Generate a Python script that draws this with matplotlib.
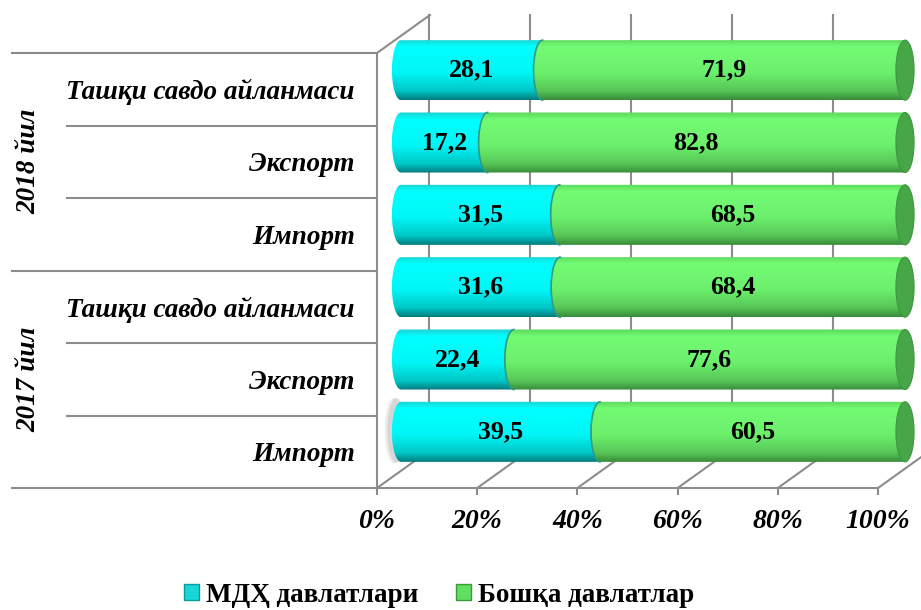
import numpy as np
import matplotlib.pyplot as plt
from matplotlib.patches import Ellipse, PathPatch, Patch
from matplotlib.path import Path
from matplotlib.colors import LinearSegmentedColormap

plt.rcParams['font.family'] = ['Liberation Serif', 'DejaVu Serif']

# data (bottom to top)
categories = ['Импорт', 'Экспорт', 'Ташқи савдо айланмаси',
              'Импорт', 'Экспорт', 'Ташқи савдо айланмаси']
years = ['2017 йил', '2018 йил']
cis_share = [39.5, 22.4, 31.6, 31.5, 17.2, 28.1]
other_share = [60.5, 77.6, 68.4, 68.5, 82.8, 71.9]
series_names = ['МДҲ давлатлари', 'Бошқа давлатлар']
x_ticks = [0, 20, 40, 60, 80, 100]

W, H = 921, 610
GRID = '#8c8c8c'


def fig_rect(l, t, r, b):
    return [l / W, 1 - b / H, (r - l) / W, (b - t) / H]


cyan_cmap = LinearSegmentedColormap.from_list(
    'cy', [(0, '#20cfcf'), (0.12, '#00ffff'), (0.55, '#00f6f6'),
           (0.85, '#00c6c6'), (1, '#007b7c')])
green_cmap = LinearSegmentedColormap.from_list(
    'gr', [(0, '#5cd85c'), (0.12, '#73fb73'), (0.55, '#6cf06c'),
           (0.85, '#57c657'), (1, '#388c38')])

fig = plt.figure(figsize=(W / 100, H / 100), dpi=100)

# background frame (3D walls)
ax_bg = fig.add_axes([0, 0, 1, 1], zorder=0)
ax_bg.set_xlim(0, W)
ax_bg.set_ylim(H, 0)
ax_bg.axis('off')
for k in range(6):
    xb = 429 + 101 * k
    ax_bg.plot([xb, xb], [15, 450], color=GRID, lw=1.5)
    xf = 377 + 100.2 * k
    ax_bg.plot([xf, xf + 53], [488, 450], color=GRID, lw=1.5)
ax_bg.plot([377, 430], [53, 15], color=GRID, lw=1.5)

# front plane: categories and percent axis
ax_front = fig.add_axes(fig_rect(377, 53, 878, 488), zorder=1)
ax_front.patch.set_visible(False)
ax_front.set_xlim(0, 100)
ax_front.set_ylim(0, 6)
for s in ['top', 'right']:
    ax_front.spines[s].set_visible(False)
for s in ['left', 'bottom']:
    ax_front.spines[s].set_color(GRID)
    ax_front.spines[s].set_linewidth(1.5)
ax_front.set_xticks(x_ticks)
ax_front.set_xticklabels([f'{t}%' for t in x_ticks], fontsize=20,
                         fontweight='bold', fontstyle='italic')
ax_front.tick_params(axis='x', length=5, width=1.5, color=GRID, pad=10)
ax_front.set_yticks(np.arange(len(categories)) + 0.5)
ax_front.set_yticklabels(categories, fontsize=19.5, fontweight='bold',
                         fontstyle='italic')
ax_front.tick_params(axis='y', length=0, pad=16)
ytr = ax_front.get_yaxis_transform()
for yv in range(7):
    x_start = -0.729 if yv % 3 == 0 else -0.619
    ax_front.plot([x_start, 0], [yv, yv], color=GRID, lw=1.5,
                  transform=ytr, clip_on=False)
for i, yr in enumerate(years):
    ax_front.text(-0.694, 1.5 + 3 * i, yr, transform=ytr, rotation=90,
                  ha='center', va='center', fontsize=19.5, fontweight='bold',
                  fontstyle='italic')

# cylinders: 0% at x=401 px, 100% at x=905 px
ax_bar = fig.add_axes(fig_rect(401 - 3 * 5.04, 34, 905 + 3 * 5.04, 468),
                      zorder=2)
ax_bar.patch.set_visible(False)
ax_bar.axis('off')

cap_a = 1.8
bar_h = 0.83
grad = np.linspace(0, 1, 256).reshape(-1, 1)


def cylinder(ax, x0, x1, yc, cmap, rim=None, face=None):
    t = np.linspace(np.pi / 2, 3 * np.pi / 2, 40)
    ex = x0 + cap_a * np.cos(t)
    ey = yc + bar_h / 2 * np.sin(t)
    verts = [(x1, yc + bar_h / 2)] + list(zip(ex, ey)) + \
        [(x1, yc - bar_h / 2), (x1, yc + bar_h / 2)]
    codes = [Path.MOVETO] + [Path.LINETO] * (len(verts) - 2) + [Path.CLOSEPOLY]
    patch = PathPatch(Path(verts, codes), facecolor='none', edgecolor='none')
    ax.add_patch(patch)
    im = ax.imshow(grad, extent=(x0 - cap_a, x1, yc - bar_h / 2, yc + bar_h / 2),
                   cmap=cmap, aspect='auto', origin='upper',
                   interpolation='bilinear', zorder=2)
    im.set_clip_path(patch)
    if rim:
        ax.plot(ex, ey, color=rim, lw=1.2, zorder=3)
    if face:
        ax.add_patch(Ellipse((x1, yc), 2 * cap_a, bar_h, facecolor=face,
                             edgecolor='#3f963f', lw=0.8, zorder=3))


# soft shadow left of the lowest bar
for dx, alpha in [(-1.4, 0.25), (-0.9, 0.35)]:
    ax_bar.add_patch(Ellipse((dx, 0.02), 3.6, 0.9, facecolor='#b0b0b0',
                             edgecolor='none', alpha=alpha, zorder=1,
                             clip_on=False))

for i, (c, o) in enumerate(zip(cis_share, other_share)):
    cylinder(ax_bar, 0, c, i, cyan_cmap)
    cylinder(ax_bar, c, c + o, i, green_cmap, rim='#2f9a86', face='#47a647')
    ax_bar.text(c / 2, i, f'{c:.1f}'.replace('.', ','), ha='center',
                va='center', fontsize=18.5, fontweight='bold', zorder=5)
    ax_bar.text(c + o / 2, i, f'{o:.1f}'.replace('.', ','), ha='center',
                va='center', fontsize=18.5, fontweight='bold', zorder=5)

ax_bar.set_xlim(-3, 103)
ax_bar.set_ylim(-0.5, 5.5)

# legend
handles = [Patch(facecolor='#18d6d6', edgecolor='#0a9c9c'),
           Patch(facecolor='#62de62', edgecolor='#3a9a3a')]
fig.legend(handles, series_names, loc='center',
           bbox_to_anchor=(439 / W, 1 - 595 / H), ncol=2, frameon=False,
           prop={'size': 19.5, 'weight': 'bold'}, handlelength=0.55,
           handleheight=0.55, handletextpad=0.25, columnspacing=1.4)

fig.savefig('out.png', dpi=100)
